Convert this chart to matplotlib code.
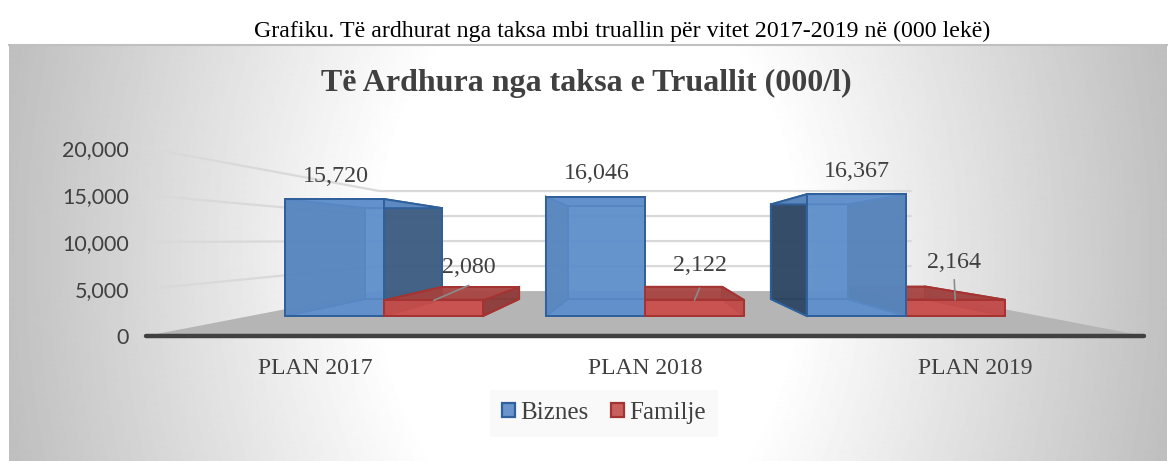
import numpy as np
import matplotlib
matplotlib.use("Agg")
import matplotlib.pyplot as plt
from matplotlib.colors import to_rgba
from matplotlib.patches import Patch, Polygon

categories = ["PLAN 2017", "PLAN 2018", "PLAN 2019"]
biznes = [15720, 16046, 16367]
familje = [2080, 2122, 2164]
y_ticks = [0, 5000, 10000, 15000, 20000]

TITLE = "Të Ardhura nga taksa e Truallit (000/l)"
CAPTION = "Grafiku. Të ardhurat nga taksa mbi truallin për vitet 2017-2019 në (000 lekë)"

W, H = 1176, 461
SERIF = "Liberation Serif"
TEXT = "#404040"

# perspective of the 3d chart, scale 1 is the front of the floor
HORIZON = 10213
CENTER_X = 1
FRONT, BACK = 0.79, 0.615
WALL = 0.532
BAR_W = 0.38


def proj(x, v, s):
    return CENTER_X + s * (x - CENTER_X), HORIZON + s * (v - HORIZON)


def px(n):
    return n * 72 / 100


fig = plt.figure(figsize=(W / 100, H / 100), dpi=100)

# grey background of the chart area, white in the middle
bg = fig.add_axes([9 / W, 0, (1167 - 9) / W, (461 - 45) / H])
yy, xx = np.mgrid[45:461, 9:1167]
r = np.sqrt(((xx - 588) / 580) ** 2 + ((yy - 260) / 800) ** 2)
shade = 1 - 0.25 * np.clip((r - 0.36) / 0.66, 0, 1)
bg.imshow(shade, cmap="gray", vmin=0, vmax=1, aspect="auto")
bg.set_xticks([])
bg.set_yticks([])
for name, s in bg.spines.items():
    s.set_visible(name == "top")
    s.set_color("#c0c0c0")
    s.set_linewidth(1.5)

ax = fig.add_axes([146 / W, (H - 336) / H, 998 / W, 188 / H])
ax.set_xlim(-169 / 330, 829 / 330)
ax.set_ylim(0, 20000)
ax.patch.set_alpha(0)
for s in ax.spines.values():
    s.set_visible(False)

left, right = ax.get_xlim()

# floor
floor = [proj(left, 0, 1), proj(right, 0, 1), proj(right, 0, WALL), proj(left, 0, WALL)]
ax.add_patch(Polygon(floor, fc="#b5b5b5", ec="none", zorder=1))

# gridlines on the left wall and on the back wall
for v in y_ticks[1:]:
    pts = [proj(left, v, 1), proj(left, v, WALL), proj(right, v, WALL)]
    ax.plot([p[0] for p in pts], [p[1] for p in pts], color="#d9d9d9", lw=1.6, zorder=1)

ax.plot([left, right], [0, 0], color="#404040", lw=3.2, solid_capstyle="round", zorder=2, clip_on=False)


def draw_box(x0, x1, v, face, top, side, edge, z):
    fr = lambda x, y: proj(x, y, FRONT)
    bk = lambda x, y: proj(x, y, BACK)
    faces = [
        ([bk(x0, 0), bk(x1, 0), bk(x1, v), bk(x0, v)], face, 0.75),
        ([fr(x0, 0), fr(x1, 0), bk(x1, 0), bk(x0, 0)], face, 0.75),
        ([fr(x0, 0), fr(x0, v), bk(x0, v), bk(x0, 0)], side, 0.9),
        ([fr(x1, 0), fr(x1, v), bk(x1, v), bk(x1, 0)], side, 0.9),
        ([fr(x0, v), fr(x1, v), bk(x1, v), bk(x0, v)], top, 0.85),
        ([fr(x0, 0), fr(x1, 0), fr(x1, v), fr(x0, v)], face, 0.85),
    ]
    for pts, col, a in faces:
        ax.add_patch(Polygon(pts, fc=to_rgba(col, a), ec=edge, lw=1.4, zorder=z))


# outer bars are drawn first, so inner bars lie on top of them
z = 3
for i in [0, 2, 1]:
    blue_side = "#2c435c" if i == 2 else "#3d5a7c"
    boxes = [(i - BAR_W, i, biznes[i], "#5f8fcb", "#5f8fcb", blue_side, "#2f609c"),
             (i, i + BAR_W, familje[i], "#c9504e", "#a34543", "#8a3d3b", "#a53331")]
    if i == 2:
        boxes = boxes[::-1]
    for x0, x1, v, face, top, side, edge in boxes:
        draw_box(x0, x1, v, face, top, side, edge, z)
        z += 1

# value labels, biznes sit straight above the bar, familje have leader lines
red_offset = [(35, 33), (5, 35), (-1, 37)]
red_leader = [(35, 15), (5, 12), (-1, 20)]
for i in range(3):
    x, y = proj(i - BAR_W / 2, biznes[i], FRONT)
    ax.annotate(f"{biznes[i]:,}", (x, y), xytext=(px(1), px(23)), textcoords="offset points",
                ha="center", va="center", family=SERIF, fontsize=17.3, color=TEXT, zorder=20)
    x, y = proj(i + BAR_W / 2, familje[i], FRONT)
    ax.annotate(f"{familje[i]:,}", (x, y), xytext=(px(red_offset[i][0]), px(red_offset[i][1])),
                textcoords="offset points", ha="center", va="center", family=SERIF, fontsize=17.3,
                color=TEXT, zorder=20)
    ax.annotate("", (x, y), xytext=(px(red_leader[i][0]), px(red_leader[i][1])), textcoords="offset points",
                arrowprops=dict(arrowstyle="-", color="#8c8c8c", lw=1.2, shrinkA=0, shrinkB=0), zorder=20)

ax.set_yticks(y_ticks)
ax.set_yticklabels([f"{v:,}" for v in y_ticks], family="Lato", fontsize=15.5, color=TEXT)
ax.set_xticks(range(3))
ax.set_xticklabels(categories, family=SERIF, fontsize=17, color=TEXT)
ax.tick_params(axis="y", length=0, pad=px(17))
ax.tick_params(axis="x", length=0, pad=px(22))

handles = [Patch(fc="#6a94cb", ec="#2f609c", lw=1.6, label="Biznes"),
           Patch(fc="#c9605e", ec="#a53331", lw=1.6, label="Familje")]
leg = fig.legend(handles=handles, ncol=2, loc="center", bbox_to_anchor=(604 / W, (H - 413) / H),
                 frameon=True, facecolor="#f9f9f9", edgecolor="none", framealpha=1, fancybox=False,
                 handlelength=0.52, handleheight=0.52, handletextpad=0.2, columnspacing=0.9,
                 borderpad=0.5, borderaxespad=0, prop={"family": SERIF, "size": 18})
for t in leg.get_texts():
    t.set_color(TEXT)

fig.text(622 / W, (H - 31) / H, CAPTION, family=SERIF, fontsize=17.2, color="black", ha="center", va="center")
fig.text(586.5 / W, (H - 83) / H, TITLE, family=SERIF, fontsize=23, fontweight="bold", color=TEXT, ha="center", va="center")

fig.savefig("out.png", dpi=100)
